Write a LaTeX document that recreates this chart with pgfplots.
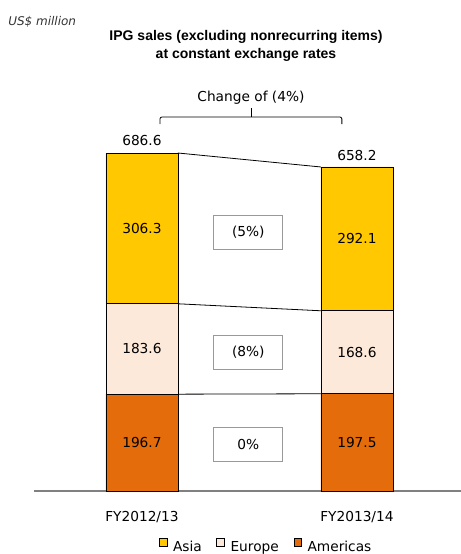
\documentclass[border=0pt]{standalone}
\usepackage{fontspec}
\setmainfont{DejaVu Sans}
\newfontfamily\titlefont{Liberation Sans}
\usepackage{pgfplots}
\pgfplotsset{compat=1.18}

\definecolor{asia}{HTML}{FFC800}
\definecolor{europe}{HTML}{FDE9D9}
\definecolor{americas}{HTML}{E46C0A}
\definecolor{axisgray}{HTML}{808080}

\newcommand{\lbl}{\fontsize{10.3}{12}\selectfont}

\begin{document}
\begin{tikzpicture}
\useasboundingbox (-25.5pt,-47.25pt) rectangle (320.25pt,368.25pt);

% headline and unit
\node[anchor=west, font=\fontsize{9}{11}\selectfont\itshape, text=black!80, inner sep=0pt] at (-19.5pt,351.75pt) {US\$ million};
\node[font=\titlefont\bfseries\fontsize{10.5}{12}\selectfont, inner sep=0pt] at (159pt,340.5pt) {IPG sales (excluding nonrecurring items)};
\node[font=\titlefont\bfseries\fontsize{10.5}{12}\selectfont, inner sep=0pt] at (159pt,327pt) {at constant exchange rates};

\begin{axis}[
  at={(0pt,0pt)}, anchor=south west,
  scale only axis, width=320.25pt, height=368.25pt,
  xmin=-0.502, xmax=1.484, ymin=0, ymax=997.4,
  ybar stacked, bar width=54pt,
  axis x line*=bottom, axis y line=none,
  x axis line style={draw=axisgray, line width=1.5pt},
  xtick={0,1}, xticklabels={FY2012/13,FY2013/14},
  major tick length=0pt,
  xticklabel style={font=\lbl, anchor=base, yshift=-22.5pt},
  clip=false,
  reverse legend,
  legend columns=3,
  legend style={at={(0.5445,0)}, anchor=center, yshift=-42pt,
    draw=none, fill=none, font=\lbl, inner sep=0pt,
    /tikz/every even column/.append style={column sep=9pt}},
  legend image code/.code={\draw[#1, draw=black, line width=0.5pt] (0pt,0.8pt) rectangle (5.8pt,6.6pt); \path (8pt,0pt);},
]
\addplot[fill=americas, draw=black, line width=0.6pt] coordinates {(0,196.7) (1,197.5)};
\addlegendentry{Americas}
\addplot[fill=europe, draw=black, line width=0.6pt] coordinates {(0,183.6) (1,168.6)};
\addlegendentry{Europe}
\addplot[fill=asia, draw=black, line width=0.6pt] coordinates {(0,306.3) (1,292.1)};
\addlegendentry{Asia}

% links between the segment tops of the two years
\addplot[draw=black, line width=0.6pt, sharp plot, stack plots=false, forget plot, mark=none]
  coordinates {(0.1674,686.6) (0.8326,658.2)};
\addplot[draw=black, line width=0.6pt, sharp plot, stack plots=false, forget plot, mark=none]
  coordinates {(0.1674,380.3) (0.8326,366.1)};
\addplot[draw=black, line width=0.6pt, sharp plot, stack plots=false, forget plot, mark=none]
  coordinates {(0.1674,196.7) (0.8326,197.5)};

% anchor points for the annotations drawn on top of the bars
\coordinate (am1) at (axis cs:0,98.35);
\coordinate (eu1) at (axis cs:0,288.5);
\coordinate (as1) at (axis cs:0,533.45);
\coordinate (am2) at (axis cs:1,98.75);
\coordinate (eu2) at (axis cs:1,281.8);
\coordinate (as2) at (axis cs:1,512.15);
\coordinate (tot1) at (axis cs:0,711);
\coordinate (tot2) at (axis cs:1,682.5);
\coordinate (chA) at (axis cs:0.495,526);
\coordinate (chE) at (axis cs:0.495,282);
\coordinate (chM) at (axis cs:0.495,94.5);
\coordinate (brL) at (axis cs:0.0837,745.5);
\coordinate (brLt) at (axis cs:0.0837,759.7);
\coordinate (brR) at (axis cs:0.930,745.5);
\coordinate (brRt) at (axis cs:0.930,759.7);
\coordinate (brC) at (axis cs:0.507,759.7);
\coordinate (brCt) at (axis cs:0.507,778);
\coordinate (brT) at (axis cs:0.507,798.3);
\end{axis}

% segment values
\node[font=\lbl] at (am1) {196.7};
\node[font=\lbl] at (eu1) {183.6};
\node[font=\lbl] at (as1) {306.3};
\node[font=\lbl] at (am2) {197.5};
\node[font=\lbl] at (eu2) {168.6};
\node[font=\lbl] at (as2) {292.1};
% totals
\node[font=\lbl] at (tot1) {686.6};
\node[font=\lbl] at (tot2) {658.2};

% change boxes
\tikzset{chg/.style={draw=gray!80, fill=white, line width=0.8pt, minimum width=51.75pt, minimum height=25.5pt, font=\lbl}}
\node[chg] at (chA) {(5\%)};
\node[chg] at (chE) {(8\%)};
\node[chg] at (chM) {0\%};

% bracket with overall change
\draw[line width=0.6pt, rounded corners=1.5pt] (brL) -- (brLt) -- (brRt) -- (brR);
\draw[line width=0.6pt] (brC) -- (brCt);
\node[font=\lbl] at (brT) {Change of (4\%)};
\end{tikzpicture}
\end{document}
